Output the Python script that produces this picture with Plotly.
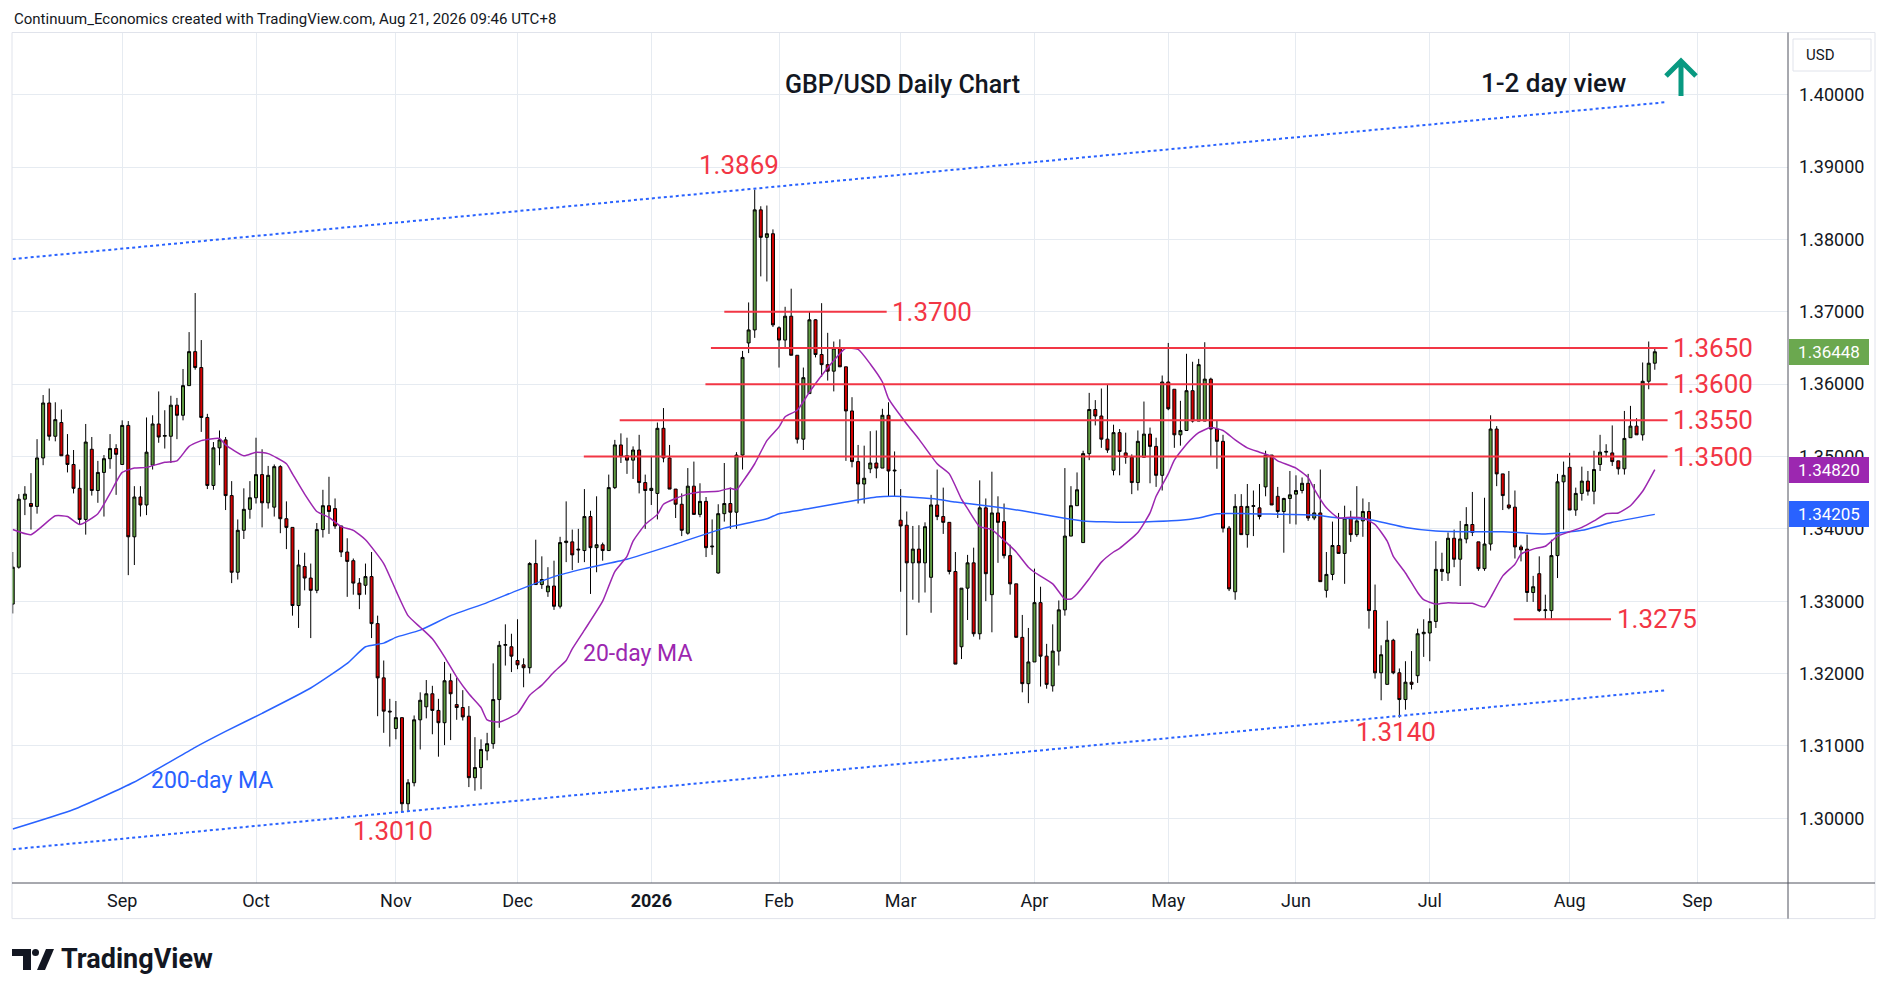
import pandas as pd
import plotly.graph_objects as go


# GBP/USD daily candles, 2025-08-06 .. 2026-08-21 (one value per trading day)
opens = [
    # Aug 2025
    1.3296, 1.3347, 1.3441, 1.3435, 1.3431, 1.3498, 1.3574, 1.3528, 1.3547, 1.3502, 1.3489, 1.3456, 1.3413, 1.3510, 1.3453, 1.3478, 1.3497, 1.3511,
    # Sep
    1.3489, 1.3543, 1.3389, 1.3444, 1.3433, 1.3488, 1.3545, 1.3528, 1.3528, 1.3571, 1.3557, 1.3598, 1.3645, 1.3623, 1.3554, 1.3460, 1.3512, 1.3523, 1.3446, 1.3340, 1.3398, 1.3427,
    # Oct
    1.3443, 1.3475, 1.3436, 1.3430, 1.3486, 1.3414, 1.3402, 1.3294, 1.3348, 1.3332, 1.3315, 1.3399, 1.3432, 1.3428, 1.3404, 1.3368, 1.3356, 1.3325, 1.3322, 1.3334, 1.3269, 1.3194, 1.3148,
    # Nov
    1.3124, 1.3139, 1.3020, 1.3049, 1.3136, 1.3154, 1.3172, 1.3149, 1.3132, 1.3190, 1.3157, 1.3153, 1.3141, 1.3056, 1.3070, 1.3093, 1.3103, 1.3164, 1.3239, 1.3237,
    # Dec
    1.3218, 1.3212, 1.3208, 1.3352, 1.3323, 1.3313, 1.3321, 1.3293, 1.3381, 1.3382, 1.3372, 1.3370, 1.3417, 1.3374, 1.3378, 1.3370, 1.3457, 1.3516, 1.3501, 1.3495, 1.3509, 1.3464,
    # Jan 2026
    1.3453, 1.3449, 1.3539, 1.3498, 1.3455, 1.3434, 1.3394, 1.3459, 1.3420, 1.3438, 1.3375, 1.3339, 1.3421, 1.3435, 1.3423, 1.3502, 1.3657, 1.3675, 1.3841, 1.3803, 1.3808,
    # Feb
    1.3678, 1.3661, 1.3694, 1.3640, 1.3524, 1.3587, 1.3689, 1.3641, 1.3627, 1.3618, 1.3650, 1.3624, 1.3563, 1.3493, 1.3462, 1.3483, 1.3491, 1.3484, 1.3557, 1.3480,
    # Mar
    1.3412, 1.3405, 1.3353, 1.3372, 1.3353, 1.3333, 1.3433, 1.3417, 1.3409, 1.3341, 1.3237, 1.3318, 1.3353, 1.3255, 1.3429, 1.3309, 1.3422, 1.3410, 1.3363, 1.3324, 1.3250, 1.3186,
    # Apr
    1.3216, 1.3298, 1.3224, 1.3183, 1.3231, 1.3288, 1.3390, 1.3432, 1.3381, 1.3504, 1.3565, 1.3556, 1.3524, 1.3481, 1.3533, 1.3505, 1.3499, 1.3464, 1.3499, 1.3531, 1.3514, 1.3474,
    # May
    1.3603, 1.3593, 1.3530, 1.3536, 1.3591, 1.3549, 1.3549, 1.3607, 1.3538, 1.3521, 1.3401, 1.3313, 1.3431, 1.3392, 1.3431, 1.3429, 1.3458, 1.3502, 1.3445, 1.3424, 1.3442,
    # Jun
    1.3448, 1.3453, 1.3463, 1.3415, 1.3422, 1.3315, 1.3337, 1.3377, 1.3366, 1.3415, 1.3392, 1.3411, 1.3424, 1.3287, 1.3201, 1.3185, 1.3246, 1.3201, 1.3164, 1.3188, 1.3197, 1.3255,
    # Jul
    1.3256, 1.3272, 1.3344, 1.3339, 1.3387, 1.3358, 1.3386, 1.3406, 1.3382, 1.3345, 1.3379, 1.3538, 1.3476, 1.3433, 1.3430, 1.3375, 1.3372, 1.3312, 1.3338, 1.3287, 1.3287, 1.3363, 1.3465,
    # Aug
    1.3485, 1.3426, 1.3449, 1.3466, 1.3452, 1.3489, 1.3506, 1.3505, 1.3494, 1.3483, 1.3526, 1.3542, 1.3530, 1.3604, 1.3629,
]
highs = [
    1.3368, 1.3448, 1.3459, 1.3477, 1.3524, 1.3585, 1.3594, 1.3575, 1.3565, 1.3531, 1.3509, 1.3482, 1.3545, 1.3527, 1.3494, 1.3502, 1.3531, 1.3517,
    1.3550, 1.3549, 1.3459, 1.3459, 1.3554, 1.3557, 1.3590, 1.3564, 1.3584, 1.3581, 1.3621, 1.3672, 1.3726, 1.3661, 1.3559, 1.3520, 1.3536, 1.3527, 1.3466, 1.3413, 1.3456, 1.3466,
    1.3526, 1.3510, 1.3487, 1.3489, 1.3488, 1.3438, 1.3402, 1.3371, 1.3367, 1.3352, 1.3408, 1.3454, 1.3472, 1.3442, 1.3404, 1.3387, 1.3359, 1.3332, 1.3352, 1.3368, 1.3280, 1.3218, 1.3165,
    1.3162, 1.3139, 1.3054, 1.3142, 1.3174, 1.3191, 1.3183, 1.3165, 1.3216, 1.3200, 1.3194, 1.3177, 1.3155, 1.3112, 1.3109, 1.3118, 1.3214, 1.3245, 1.3268, 1.3255,
    1.3275, 1.3221, 1.3354, 1.3385, 1.3362, 1.3347, 1.3356, 1.3389, 1.3438, 1.3399, 1.3400, 1.3455, 1.3425, 1.3445, 1.3381, 1.3475, 1.3523, 1.3532, 1.3526, 1.3514, 1.3530, 1.3475,
    1.3501, 1.3547, 1.3567, 1.3516, 1.3455, 1.3449, 1.3484, 1.3493, 1.3463, 1.3444, 1.3413, 1.3434, 1.3491, 1.3457, 1.3506, 1.3646, 1.3713, 1.3869, 1.3846, 1.3847, 1.3814,
    1.3680, 1.3707, 1.3732, 1.3640, 1.3623, 1.3700, 1.3690, 1.3712, 1.3671, 1.3659, 1.3662, 1.3624, 1.3582, 1.3516, 1.3515, 1.3535, 1.3536, 1.3566, 1.3575, 1.3507,
    1.3455, 1.3424, 1.3404, 1.3405, 1.3409, 1.3447, 1.3482, 1.3457, 1.3409, 1.3368, 1.3318, 1.3364, 1.3374, 1.3467, 1.3442, 1.3479, 1.3445, 1.3435, 1.3378, 1.3324, 1.3281, 1.3263,
    1.3345, 1.3320, 1.3241, 1.3268, 1.3301, 1.3484, 1.3459, 1.3478, 1.3508, 1.3588, 1.3578, 1.3594, 1.3600, 1.3544, 1.3538, 1.3533, 1.3503, 1.3536, 1.3576, 1.3540, 1.3526, 1.3612,
    1.3657, 1.3593, 1.3577, 1.3642, 1.3631, 1.3635, 1.3658, 1.3609, 1.3550, 1.3530, 1.3404, 1.3448, 1.3448, 1.3462, 1.3453, 1.3462, 1.3508, 1.3502, 1.3458, 1.3443, 1.3480,
    1.3474, 1.3471, 1.3476, 1.3462, 1.3482, 1.3368, 1.3410, 1.3422, 1.3432, 1.3425, 1.3459, 1.3442, 1.3437, 1.3323, 1.3239, 1.3273, 1.3248, 1.3207, 1.3217, 1.3231, 1.3262, 1.3275,
    1.3290, 1.3383, 1.3367, 1.3395, 1.3399, 1.3411, 1.3430, 1.3451, 1.3382, 1.3443, 1.3557, 1.3542, 1.3476, 1.3480, 1.3453, 1.3378, 1.3392, 1.3335, 1.3362, 1.3309, 1.3385, 1.3476, 1.3493,
    1.3505, 1.3457, 1.3486, 1.3480, 1.3508, 1.3530, 1.3517, 1.3543, 1.3494, 1.3563, 1.3570, 1.3553, 1.3630, 1.3659, 1.3649,
]
lows = [
    1.3283, 1.3345, 1.3419, 1.3399, 1.3421, 1.3488, 1.3522, 1.3521, 1.3501, 1.3478, 1.3449, 1.3406, 1.3392, 1.3446, 1.3436, 1.3417, 1.3483, 1.3447,
    1.3489, 1.3336, 1.3350, 1.3417, 1.3419, 1.3482, 1.3519, 1.3511, 1.3491, 1.3524, 1.3550, 1.3598, 1.3620, 1.3534, 1.3455, 1.3454, 1.3488, 1.3426, 1.3325, 1.3330, 1.3386, 1.3414,
    1.3435, 1.3402, 1.3428, 1.3417, 1.3394, 1.3372, 1.3280, 1.3263, 1.3315, 1.3249, 1.3311, 1.3388, 1.3393, 1.3400, 1.3361, 1.3306, 1.3309, 1.3289, 1.3309, 1.3249, 1.3141, 1.3118, 1.3099,
    1.3109, 1.3010, 1.3010, 1.3044, 1.3095, 1.3138, 1.3116, 1.3085, 1.3101, 1.3108, 1.3136, 1.3135, 1.3043, 1.3038, 1.3040, 1.3080, 1.3096, 1.3125, 1.3211, 1.3202,
    1.3206, 1.3181, 1.3200, 1.3323, 1.3317, 1.3306, 1.3288, 1.3290, 1.3354, 1.3343, 1.3353, 1.3354, 1.3310, 1.3340, 1.3356, 1.3370, 1.3455, 1.3491, 1.3476, 1.3469, 1.3449, 1.3400,
    1.3433, 1.3413, 1.3492, 1.3455, 1.3415, 1.3390, 1.3392, 1.3420, 1.3416, 1.3361, 1.3364, 1.3338, 1.3410, 1.3400, 1.3400, 1.3482, 1.3643, 1.3664, 1.3749, 1.3742, 1.3679,
    1.3623, 1.3651, 1.3640, 1.3518, 1.3509, 1.3587, 1.3637, 1.3610, 1.3605, 1.3590, 1.3624, 1.3494, 1.3485, 1.3435, 1.3435, 1.3477, 1.3470, 1.3484, 1.3445, 1.3445,
    1.3313, 1.3253, 1.3302, 1.3298, 1.3312, 1.3284, 1.3412, 1.3393, 1.3337, 1.3213, 1.3220, 1.3274, 1.3251, 1.3247, 1.3300, 1.3257, 1.3353, 1.3359, 1.3309, 1.3250, 1.3174, 1.3159,
    1.3216, 1.3182, 1.3179, 1.3175, 1.3211, 1.3280, 1.3390, 1.3432, 1.3381, 1.3495, 1.3543, 1.3512, 1.3505, 1.3474, 1.3474, 1.3490, 1.3448, 1.3453, 1.3499, 1.3463, 1.3458, 1.3453,
    1.3564, 1.3512, 1.3515, 1.3536, 1.3547, 1.3549, 1.3549, 1.3500, 1.3483, 1.3395, 1.3314, 1.3302, 1.3392, 1.3374, 1.3390, 1.3413, 1.3445, 1.3433, 1.3415, 1.3367, 1.3407,
    1.3406, 1.3449, 1.3411, 1.3412, 1.3327, 1.3305, 1.3329, 1.3366, 1.3324, 1.3382, 1.3389, 1.3389, 1.3262, 1.3193, 1.3163, 1.3185, 1.3199, 1.3139, 1.3150, 1.3178, 1.3187, 1.3223,
    1.3217, 1.3263, 1.3328, 1.3328, 1.3347, 1.3321, 1.3380, 1.3390, 1.3342, 1.3342, 1.3370, 1.3459, 1.3426, 1.3427, 1.3359, 1.3355, 1.3299, 1.3299, 1.3285, 1.3275, 1.3276, 1.3332, 1.3399,
    1.3426, 1.3418, 1.3439, 1.3446, 1.3434, 1.3480, 1.3499, 1.3487, 1.3475, 1.3475, 1.3526, 1.3530, 1.3522, 1.3593, 1.3620,
]
closes = [
    1.3347, 1.3441, 1.3448, 1.3431, 1.3498, 1.3574, 1.3528, 1.3551, 1.3501, 1.3489, 1.3456, 1.3413, 1.3520, 1.3453, 1.3478, 1.3497, 1.3511, 1.3503,
    1.3543, 1.3389, 1.3444, 1.3433, 1.3506, 1.3545, 1.3527, 1.3529, 1.3571, 1.3557, 1.3598, 1.3645, 1.3623, 1.3554, 1.3460, 1.3512, 1.3523, 1.3446, 1.3340, 1.3398, 1.3427, 1.3443,
    1.3475, 1.3436, 1.3474, 1.3486, 1.3414, 1.3402, 1.3294, 1.3350, 1.3332, 1.3315, 1.3399, 1.3432, 1.3424, 1.3404, 1.3368, 1.3355, 1.3325, 1.3309, 1.3334, 1.3269, 1.3194, 1.3148, 1.3147,
    1.3139, 1.3020, 1.3049, 1.3136, 1.3163, 1.3172, 1.3149, 1.3132, 1.3190, 1.3172, 1.3153, 1.3140, 1.3056, 1.3070, 1.3095, 1.3103, 1.3164, 1.3239, 1.3240, 1.3224,
    1.3212, 1.3208, 1.3352, 1.3323, 1.3330, 1.3321, 1.3293, 1.3381, 1.3383, 1.3364, 1.3371, 1.3417, 1.3374, 1.3378, 1.3370, 1.3457, 1.3516, 1.3500, 1.3495, 1.3509, 1.3464, 1.3453,
    1.3456, 1.3539, 1.3498, 1.3455, 1.3434, 1.3398, 1.3459, 1.3420, 1.3438, 1.3374, 1.3376, 1.3421, 1.3435, 1.3423, 1.3502, 1.3637, 1.3675, 1.3841, 1.3803, 1.3808, 1.3682,
    1.3661, 1.3694, 1.3640, 1.3524, 1.3609, 1.3689, 1.3641, 1.3627, 1.3618, 1.3650, 1.3624, 1.3563, 1.3493, 1.3462, 1.3470, 1.3491, 1.3484, 1.3557, 1.3480, 1.3481,
    1.3404, 1.3353, 1.3372, 1.3353, 1.3403, 1.3433, 1.3417, 1.3409, 1.3341, 1.3213, 1.3318, 1.3353, 1.3255, 1.3429, 1.3338, 1.3422, 1.3409, 1.3363, 1.3324, 1.3250, 1.3186, 1.3216,
    1.3298, 1.3224, 1.3185, 1.3231, 1.3288, 1.3390, 1.3432, 1.3454, 1.3504, 1.3565, 1.3556, 1.3524, 1.3509, 1.3533, 1.3507, 1.3499, 1.3464, 1.3521, 1.3531, 1.3514, 1.3474, 1.3603,
    1.3566, 1.3530, 1.3536, 1.3591, 1.3549, 1.3627, 1.3607, 1.3538, 1.3521, 1.3401, 1.3317, 1.3431, 1.3392, 1.3431, 1.3432, 1.3417, 1.3502, 1.3433, 1.3424, 1.3442, 1.3447,
    1.3453, 1.3463, 1.3415, 1.3422, 1.3327, 1.3337, 1.3377, 1.3366, 1.3415, 1.3392, 1.3411, 1.3424, 1.3287, 1.3201, 1.3226, 1.3246, 1.3201, 1.3164, 1.3188, 1.3185, 1.3255, 1.3257,
    1.3272, 1.3344, 1.3341, 1.3387, 1.3358, 1.3386, 1.3406, 1.3395, 1.3345, 1.3379, 1.3538, 1.3476, 1.3446, 1.3429, 1.3375, 1.3371, 1.3312, 1.3320, 1.3287, 1.3288, 1.3363, 1.3465, 1.3474,
    1.3426, 1.3449, 1.3466, 1.3452, 1.3482, 1.3506, 1.3507, 1.3493, 1.3483, 1.3525, 1.3542, 1.3530, 1.3604, 1.3629, 1.36448,
]

# moving averages: trading-day number (0 = 2025-08-06) and value
ma20_days = [0, 3, 7, 9, 11, 14, 16, 18, 20, 22, 25, 27, 29, 31, 34, 35, 38, 40, 42, 45, 46, 48, 50, 52, 54, 56, 58, 61, 63, 65,
             67, 69, 71, 73, 75, 77, 78, 80, 83, 85, 87, 89, 91, 92, 94, 97, 99, 101, 102, 104, 106, 107, 109, 111, 113, 116, 118, 119, 120, 122,
             124, 126, 127, 129, 131, 133, 136, 137, 139, 141, 143, 144, 147, 149, 152, 154, 156, 157, 159, 161, 163, 165, 167, 168, 171, 173, 174, 175, 177, 179,
             181, 182, 185, 187, 188, 190, 191, 193, 195, 197, 199, 201, 203, 205, 207, 208, 211, 213, 214, 216, 218, 220, 222, 224, 226, 227, 229, 231, 232, 234,
             236, 238, 240, 242, 243, 245, 247, 248, 250, 252, 254, 256, 258, 260, 262, 264, 266, 268, 270]
ma20_vals = [1.3399, 1.3392, 1.3418, 1.3417, 1.3406, 1.3421, 1.3449, 1.3478, 1.3484, 1.3485, 1.3492, 1.3494, 1.3514, 1.3522, 1.3525, 1.3516, 1.3501, 1.3506, 1.3504, 1.3490, 1.3476, 1.3448, 1.3424, 1.3416, 1.3403, 1.3398, 1.3385, 1.3352, 1.3315, 1.3280,
             1.3264, 1.3248, 1.3223, 1.3195, 1.3172, 1.3153, 1.3136, 1.3133, 1.3145, 1.3170, 1.3184, 1.3202, 1.3218, 1.3234, 1.3260, 1.3300, 1.3341, 1.3362, 1.3383, 1.3406, 1.3420, 1.3434, 1.3442, 1.3448, 1.3451, 1.3452, 1.3456, 1.3454, 1.3465, 1.3490,
             1.3522, 1.3541, 1.3555, 1.3564, 1.3589, 1.3612, 1.3642, 1.3650, 1.3648, 1.3628, 1.3603, 1.3580, 1.3545, 1.3524, 1.3490, 1.3476, 1.3441, 1.3428, 1.3403, 1.3399, 1.3384, 1.3368, 1.3347, 1.3340, 1.3324, 1.3303, 1.3303, 1.3310, 1.3331, 1.3354,
             1.3368, 1.3373, 1.3395, 1.3422, 1.3445, 1.3476, 1.3495, 1.3517, 1.3533, 1.3540, 1.3536, 1.3523, 1.3512, 1.3506, 1.3500, 1.3494, 1.3484, 1.3471, 1.3455, 1.3429, 1.3415, 1.3416, 1.3415, 1.3406, 1.3383, 1.3362, 1.3339, 1.3312, 1.3302, 1.3296,
             1.3298, 1.3297, 1.3297, 1.3292, 1.3305, 1.3335, 1.3351, 1.3365, 1.3372, 1.3376, 1.3390, 1.3396, 1.3402, 1.3411, 1.3421, 1.3422, 1.3432, 1.3452, 1.3482]
ma200_days = [0, 10, 20, 30, 35, 41, 49, 55, 58, 61, 63, 67, 72, 78, 83, 89, 94, 101, 109, 117, 124, 126, 131, 137, 142, 145, 152, 155, 161, 166,
              172, 176, 183, 192, 195, 198, 203, 214, 218, 223, 229, 234, 240, 245, 252, 258, 263, 270]
ma200_vals = [1.2985, 1.3012, 1.3050, 1.3098, 1.3120, 1.3145, 1.3180, 1.3214, 1.3237, 1.3242, 1.3250, 1.3260, 1.3280, 1.3298, 1.3315, 1.3334, 1.3345, 1.3358, 1.3379, 1.3401, 1.3414, 1.3421, 1.3428, 1.3437, 1.3444, 1.3445, 1.3441, 1.3437, 1.3431, 1.3425,
              1.3416, 1.3411, 1.3409, 1.3412, 1.3415, 1.3421, 1.3421, 1.3419, 1.3415, 1.3413, 1.3402, 1.3397, 1.3396, 1.3396, 1.3393, 1.3398, 1.3409, 1.3420]

# rising channel (dotted), end points at trading days 0 and 272
channel_days = [0, 272]
channel_top = [1.3773, 1.3990]
channel_bottom = [1.2957, 1.3177]

levels = [1.3700, 1.3650, 1.3600, 1.3550, 1.3500, 1.3275]
level_labels = ["1.3700", "1.3650", "1.3600", "1.3550", "1.3500", "1.3275"]
extremes = [1.3869, 1.3010, 1.3140]
extreme_labels = ["1.3869", "1.3010", "1.3140"]
tag_values = [1.36448, 1.34820, 1.34205]

month_ticks = ["2025-09-01", "2025-10-01", "2025-11-03", "2025-12-01", "2026-01-02", "2026-02-02", "2026-03-02",
               "2026-04-01", "2026-05-01", "2026-06-01", "2026-07-01", "2026-08-03", "2026-09-01"]
month_labels = ["Sep", "Oct", "Nov", "Dec", "<b>2026</b>", "Feb", "Mar", "Apr", "May", "Jun", "Jul", "Aug", "Sep"]

GREEN = "#5f9b41"
RED = "#d50000"
LEVEL_RED = "#f23645"
PURPLE = "#9c27b0"
BLUE = "#2962ff"
INK = "#131722"
FONT = "Roboto"

# trading calendar: weekdays, without Christmas and New Year's Day
holidays = ["2025-12-25", "2026-01-01"]
axis_days = [d for d in pd.bdate_range("2025-08-01", "2026-10-30") if d.strftime("%Y-%m-%d") not in holidays]
first = axis_days.index(pd.Timestamp("2025-08-06"))
dates = axis_days[first:first + len(closes)]


def day_pos(n):
    # fractional trading-day number -> timestamp on the broken date axis
    whole = int(n // 1)
    return axis_days[first + whole] + pd.Timedelta(days=n - whole)


# pixel helpers for things placed outside the data area (plot area is 12..1788 x 33..883)
def px(x):
    return (x - 12) / 1776


def py(y):
    return (883 - y) / 850


fig = go.Figure()

fig.add_trace(go.Scatter(x=[day_pos(d) for d in channel_days], y=channel_top, mode="lines",
                         line=dict(color=BLUE, width=2, dash="dot"), hoverinfo="skip", showlegend=False))
fig.add_trace(go.Scatter(x=[day_pos(d) for d in channel_days], y=channel_bottom, mode="lines",
                         line=dict(color=BLUE, width=2, dash="dot"), hoverinfo="skip", showlegend=False))
fig.add_trace(go.Scatter(x=[dates[d] for d in ma200_days], y=ma200_vals, mode="lines",
                         line=dict(color=BLUE, width=1.5, shape="spline", smoothing=0.5), hoverinfo="skip", showlegend=False))
fig.add_trace(go.Scatter(x=[dates[d] for d in ma20_days], y=ma20_vals, mode="lines",
                         line=dict(color=PURPLE, width=1.5, shape="spline", smoothing=0.5), hoverinfo="skip", showlegend=False))

fig.add_trace(go.Candlestick(x=dates, open=opens, high=highs, low=lows, close=closes,
                             increasing=dict(fillcolor=GREEN, line=dict(color="#000000", width=1)),
                             decreasing=dict(fillcolor=RED, line=dict(color="#000000", width=1)),
                             whiskerwidth=0, showlegend=False, hoverinfo="skip"))

# horizontal support / resistance levels
level_spans = [(117, 143.7), (114.8, 272.1), (113.9, 272.1), (99.8, 272.1), (93.9, 272.1), (246.8, 262.8)]
for level, label, (start, end) in zip(levels, level_labels, level_spans):
    fig.add_shape(type="line", xref="x", yref="y", x0=day_pos(start), x1=day_pos(end), y0=level, y1=level,
                  line=dict(color=LEVEL_RED, width=2))
    fig.add_annotation(x=day_pos(end + 0.6), y=level, xref="x", yref="y", text=label, showarrow=False,
                       xanchor="left", yanchor="middle", font=dict(family=FONT, size=26, color=LEVEL_RED))

extreme_spots = [(119.4, 1.3903), (62.6, 1.2982), (227.5, 1.31187)]
for label, (d, y) in zip(extreme_labels, extreme_spots):
    fig.add_annotation(x=day_pos(d), y=y, xref="x", yref="y", text=label, showarrow=False,
                       xanchor="center", yanchor="middle", font=dict(family=FONT, size=26, color=LEVEL_RED))

fig.add_annotation(x=day_pos(102.7), y=1.3228, xref="x", yref="y", text="20-day MA", showarrow=False,
                   xanchor="center", yanchor="middle", font=dict(family=FONT, size=23, color=PURPLE))
fig.add_annotation(x=day_pos(32.8), y=1.30523, xref="x", yref="y", text="200-day MA", showarrow=False,
                   xanchor="center", yanchor="middle", font=dict(family=FONT, size=23, color=BLUE))

# price tags on the axis
for value, colour in zip(tag_values, ["#6ba84f", PURPLE, BLUE]):
    fig.add_annotation(x=px(1789), y=value, xref="paper", yref="y", text=f"{value:.5f}", showarrow=False,
                       xanchor="left", yanchor="middle", align="center", width=74, height=20, borderpad=2,
                       bgcolor=colour, bordercolor=colour, font=dict(family=FONT, size=17, color="white"))

# titles and header
fig.add_annotation(x=px(12), y=py(19), xref="paper", yref="paper", xanchor="left", yanchor="middle", showarrow=False,
                   text="Continuum_Economics created with TradingView.com, Aug 21, 2026 09:46 UTC+8",
                   font=dict(family=FONT, size=15, color=INK))
fig.add_annotation(x=px(903), y=py(84), xref="paper", yref="paper", xanchor="center", yanchor="middle",
                   showarrow=False, text="GBP/USD Daily Chart",
                   font=dict(family=FONT, size=25, color=INK, weight=500))
fig.add_annotation(x=px(1553), y=py(83), xref="paper", yref="paper", xanchor="center", yanchor="middle",
                   showarrow=False, text="1-2 day view",
                   font=dict(family=FONT, size=26, color=INK, weight=500))

# green up arrow
fig.add_shape(type="path", xref="paper", yref="paper", line=dict(color="#089981", width=5),
              path=f"M {px(1681)},{py(96)} L {px(1681)},{py(61)} M {px(1666)},{py(76)} L {px(1681)},{py(61)} L {px(1696)},{py(76)}")

# USD box
fig.add_shape(type="rect", xref="paper", yref="paper", x0=px(1793), x1=px(1871), y0=py(71), y1=py(39),
              line=dict(color="#e0e3eb", width=1), fillcolor="white")
fig.add_annotation(x=px(1804), y=py(55), xref="paper", yref="paper", xanchor="left", yanchor="middle",
                   showarrow=False, text="USD", font=dict(family=FONT, size=15, color=INK))

# chart frame and axis separators
fig.add_shape(type="rect", xref="paper", yref="paper", x0=px(12), x1=px(1875), y0=py(918.6), y1=py(32.5),
              line=dict(color="#e0e3eb", width=1), layer="above")
fig.add_shape(type="line", xref="paper", yref="paper", x0=px(12), x1=px(1875), y0=py(883), y1=py(883),
              line=dict(color="#50535e", width=1))
fig.add_shape(type="line", xref="paper", yref="paper", x0=px(1788), x1=px(1788), y0=py(918.6), y1=py(32.5),
              line=dict(color="#50535e", width=1))

# TradingView logo
fig.add_shape(type="rect", xref="paper", yref="paper", x0=px(12), x1=px(31), y0=py(956), y1=py(949),
              line=dict(width=0), fillcolor=INK)
fig.add_shape(type="rect", xref="paper", yref="paper", x0=px(23), x1=px(31), y0=py(970), y1=py(949),
              line=dict(width=0), fillcolor=INK)
fig.add_shape(type="circle", xref="paper", yref="paper", x0=px(32), x1=px(39), y0=py(956), y1=py(949),
              line=dict(width=0), fillcolor=INK)
fig.add_shape(type="path", xref="paper", yref="paper", line=dict(width=0), fillcolor=INK,
              path=f"M {px(37)},{py(970)} L {px(45)},{py(970)} L {px(54)},{py(949)} L {px(46)},{py(949)} Z")
fig.add_annotation(x=px(59), y=py(959), xref="paper", yref="paper", xanchor="left", yanchor="middle", showarrow=False,
                   text="<b>TradingView</b>", font=dict(family=FONT, size=27, color=INK))

fig.update_layout(
    width=1888, height=996,
    margin=dict(l=12, r=100, t=33, b=113),
    paper_bgcolor="white", plot_bgcolor="white",
    font=dict(family=FONT, size=18, color=INK),
    showlegend=False,
    xaxis=dict(type="date", range=[day_pos(-0.12), day_pos(291.9)],
               rangebreaks=[dict(bounds=["sat", "mon"]), dict(values=holidays)],
               rangeslider=dict(visible=False),
               tickmode="array", tickvals=month_ticks, ticktext=month_labels,
               showgrid=True, gridcolor="#e6ebf1", gridwidth=1, ticks="", ticklabelstandoff=5,
               showline=False, zeroline=False, tickfont=dict(family=FONT, size=18, color=INK)),
    yaxis=dict(side="right", range=[1.29104, 1.40855], tick0=1.30, dtick=0.01, tickformat=".5f",
               showgrid=True, gridcolor="#e6ebf1", gridwidth=1, ticks="", ticklabelstandoff=10,
               showline=False, zeroline=False, tickfont=dict(family=FONT, size=18, color=INK)),
)

fig.write_html("out.html", config={"displayModeBar": False}, post_script="document.body.style.margin='0';")
